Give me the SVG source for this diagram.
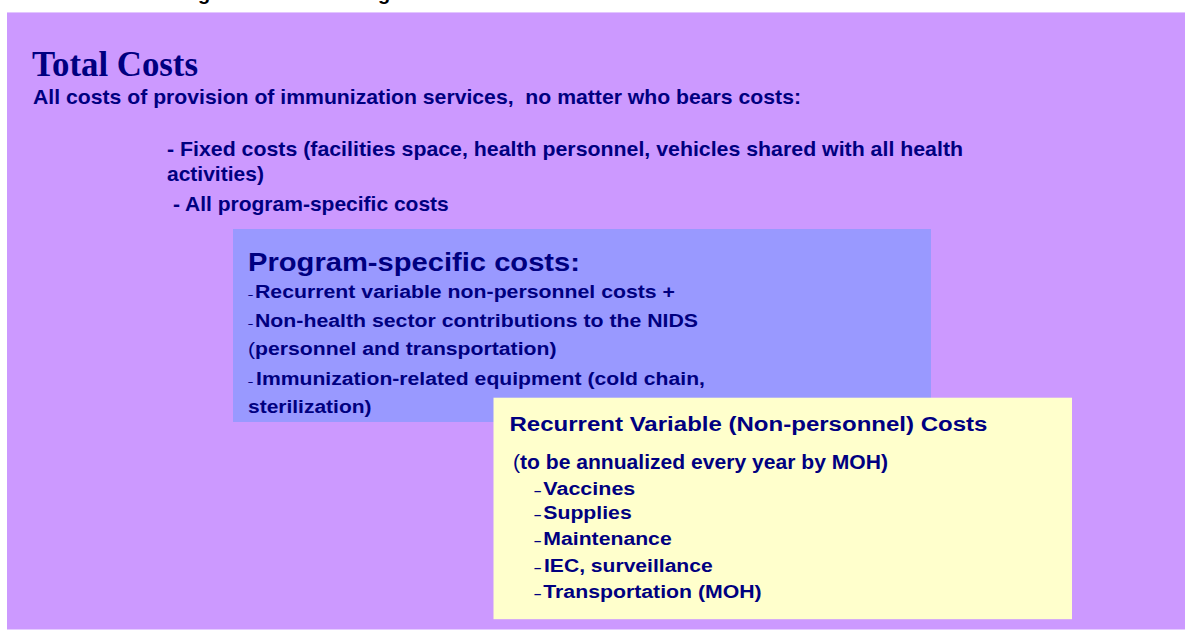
<svg xmlns="http://www.w3.org/2000/svg" width="1185" height="630" viewBox="0 0 1185 630">
<style>
.t{font-family:"Liberation Sans",Arial,sans-serif;font-weight:bold;fill:#000080;white-space:pre}
.s{font-family:"Liberation Serif","Times New Roman",serif;font-weight:bold;fill:#000080}
.p{font-size:18px}
.y{font-size:18px}
.dp{font-size:9px}
.dy{font-size:13px}
.n{font-weight:normal}
</style>
<rect width="1185" height="630" fill="#ffffff"/>
<text class="t" x="198" y="0" font-size="20" style="fill:#000000">g</text>
<text class="t" x="378" y="0" font-size="20" style="fill:#000000">g</text>
<g id="total">
<rect x="7" y="12" width="1178" height="617.5" fill="#CC99FF"/>
<line x1="7" y1="12.5" x2="1185" y2="12.5" stroke="#E2C6FF" stroke-width="1"/>
<text class="s" x="32" y="76" font-size="35" textLength="166" lengthAdjust="spacingAndGlyphs">Total Costs</text>
<text class="t" x="33" y="104.3" font-size="21" textLength="768" lengthAdjust="spacingAndGlyphs">All costs of provision of immunization services,  no matter who bears costs:</text>
<text class="t" x="167" y="156" font-size="21" textLength="796" lengthAdjust="spacingAndGlyphs">- Fixed costs (facilities space, health personnel, vehicles shared with all health</text>
<text class="t" x="167" y="180.5" font-size="21">activities)</text>
<text class="t" x="173" y="210.5" font-size="21">- All program-specific costs</text>
</g>
<g id="program">
<rect x="233" y="229" width="698" height="193" fill="#9999FF"/>
<text class="t" x="248" y="270.5" font-size="26" textLength="332" lengthAdjust="spacingAndGlyphs">Program-specific costs:</text>
<text class="t dp" x="248" y="297.5">–</text>
<text class="t p" x="255" y="297.5" textLength="420" lengthAdjust="spacingAndGlyphs">Recurrent variable non-personnel costs +</text>
<text class="t dp" x="248" y="326.5">–</text>
<text class="t p" x="255" y="326.5" textLength="443" lengthAdjust="spacingAndGlyphs">Non-health sector contributions to the NIDS</text>
<text class="t p" x="248" y="355" textLength="308.5" lengthAdjust="spacingAndGlyphs"><tspan class="n">(</tspan>personnel and transportation)</text>
<text class="t dp" x="248" y="385">–</text>
<text class="t p" x="256" y="385" textLength="449" lengthAdjust="spacingAndGlyphs">Immunization-related equipment (cold chain,</text>
<text class="t p" x="248" y="413.3" textLength="123.5" lengthAdjust="spacingAndGlyphs">sterilization)</text>
</g>
<g id="recurrent">
<rect x="493.5" y="397.7" width="578.5" height="221.5" fill="#FFFFCC"/>
<text class="t" x="509.5" y="431" font-size="20" textLength="478" lengthAdjust="spacingAndGlyphs">Recurrent Variable (Non-personnel) Costs</text>
<text class="t" x="513" y="469" font-size="21" textLength="375" lengthAdjust="spacingAndGlyphs"><tspan class="n">(</tspan>to be annualized every year by MOH)</text>
<text class="t dy" x="534" y="495">–</text>
<text class="t y" x="543.3" y="495" textLength="92" lengthAdjust="spacingAndGlyphs">Vaccines</text>
<text class="t dy" x="534" y="519">–</text>
<text class="t y" x="543.3" y="519" textLength="88.4" lengthAdjust="spacingAndGlyphs">Supplies</text>
<text class="t dy" x="534" y="545">–</text>
<text class="t y" x="543.3" y="545" textLength="128.4" lengthAdjust="spacingAndGlyphs">Maintenance</text>
<text class="t dy" x="534" y="571.7">–</text>
<text class="t y" x="544" y="571.7" textLength="168.7" lengthAdjust="spacingAndGlyphs">IEC, surveillance</text>
<text class="t dy" x="534" y="597.7">–</text>
<text class="t y" x="543.3" y="597.7" textLength="218.4" lengthAdjust="spacingAndGlyphs">Transportation (MOH)</text>
</g>
<g id="connectors"/>
</svg>
